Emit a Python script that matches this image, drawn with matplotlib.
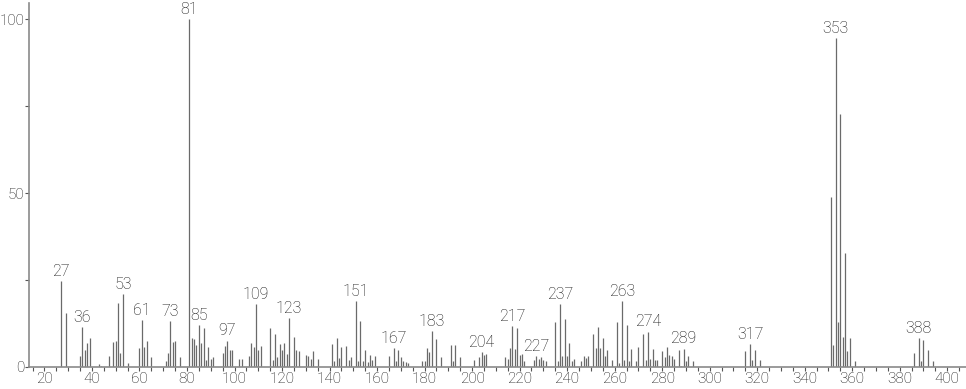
import numpy as np
import matplotlib
matplotlib.use("Agg")
import matplotlib.pyplot as plt
from matplotlib.ticker import MultipleLocator, FixedLocator

# m/z values and relative intensities
mz = [27, 29, 35, 36, 37, 38, 39, 43, 44, 47, 49, 50, 51, 52, 53, 55,
      60, 61, 62, 63, 65, 71, 72, 73, 74, 75, 77, 81, 82, 83, 84, 85,
      86, 87, 88, 89, 90, 91, 95, 96, 97, 98, 99, 102, 103, 106, 107, 108,
      109, 110, 111, 115, 116, 117, 118, 119, 120, 121, 122, 123, 124, 125, 126, 127,
      130, 131, 132, 133, 135, 141, 142, 143, 144, 145, 147, 148, 149, 151, 152, 153,
      154, 155, 156, 157, 158, 159, 165, 167, 168, 169, 170, 171, 172, 173, 179, 180,
      181, 182, 183, 185, 187, 191, 192, 193, 195, 201, 203, 204, 205, 206, 214, 215,
      216, 217, 218, 219, 220, 221, 222, 226, 227, 228, 229, 230, 231, 235, 236, 237,
      238, 239, 240, 241, 242, 243, 246, 247, 248, 249, 251, 252, 253, 254, 255, 256,
      257, 259, 261, 262, 263, 264, 265, 266, 267, 269, 270, 272, 273, 274, 275, 276,
      277, 278, 280, 281, 282, 283, 284, 285, 287, 288, 289, 290, 291, 293, 315, 317,
      318, 319, 321, 351, 352, 353, 354, 355, 356, 357, 358, 359, 361, 386, 388, 389,
      390, 392, 394]
intensity = [24.8, 15.5, 3.3, 11.6, 5.0, 6.8, 8.3, 0.8, 0.4, 3.3, 7.3, 7.5, 18.3, 4.0, 21.1, 1.2,
             5.4, 13.6, 5.8, 7.6, 3.0, 1.6, 4.0, 13.1, 7.3, 7.6, 2.8, 100, 8.4, 8.1, 6.4, 12.0,
             6.8, 11.1, 2.1, 5.7, 2.2, 3.0, 4.1, 6.1, 7.6, 5.0, 5.0, 2.4, 2.4, 3.1, 6.8, 5.8,
             18.2, 5.0, 6.1, 11.2, 2.1, 9.6, 3.0, 6.6, 4.8, 6.8, 3.8, 14.1, 0.4, 8.7, 5.0, 4.7,
             3.4, 3.3, 2.4, 4.7, 2.4, 6.6, 1.7, 8.4, 2.5, 5.7, 6.1, 2.1, 2.9, 19.1, 1.7, 13.1,
             1.8, 5.0, 1.3, 3.4, 2.1, 3.2, 3.3, 5.4, 1.8, 4.8, 2.9, 1.8, 1.4, 1.1, 1.7, 1.7,
             5.4, 4.2, 10.4, 8.1, 3.0, 6.2, 1.7, 6.2, 2.8, 2.0, 2.8, 4.3, 3.5, 3.8, 2.8, 2.4,
             5.4, 11.8, 5.2, 11.2, 3.4, 3.8, 1.8, 1.9, 3.1, 2.4, 2.9, 1.9, 1.8, 12.9, 1.7, 18.0,
             3.3, 13.9, 3.3, 6.9, 1.7, 2.4, 1.7, 3.3, 2.6, 3.2, 9.5, 5.6, 11.6, 5.6, 8.3, 3.3,
             5.0, 2.1, 12.9, 1.1, 19.1, 2.1, 12.2, 1.7, 5.3, 1.7, 5.7, 9.4, 2.0, 10.2, 2.4, 5.3,
             2.0, 2.0, 4.7, 2.8, 5.7, 3.4, 3.2, 2.4, 5.0, 0.3, 5.3, 1.8, 3.3, 1.7, 4.7, 6.7,
             2.1, 5.0, 2.1, 48.8, 6.3, 94.5, 12.8, 72.8, 8.6, 32.8, 4.7, 8.4, 1.7, 4.0, 8.4, 1.7,
             7.7, 5.0, 1.8]

labelled = [27, 36, 53, 61, 73, 81, 85, 97, 109, 123, 151, 167, 183, 204, 217,
            227, 237, 263, 274, 289, 317, 353, 388]

plt.rcParams['font.family'] = ['Roboto', 'DejaVu Sans']

fig = plt.figure(figsize=(9.66, 3.89), dpi=100)
ax = fig.add_axes([29/966, 22/389, 937/966, 364/389])

ax.vlines(mz, 0, intensity, colors='#6a6a6a', linewidth=0.9)

peaks = dict(zip(mz, intensity))
for m in labelled:
    ax.annotate(str(m), (m, peaks[m]), xytext=(0, 1.5), textcoords='offset points',
                ha='center', va='bottom', fontsize=11.5, color='#111111',
                fontweight='light')

ax.set_xlim(13.5, 407.9)
ax.set_ylim(0, 104.7)

for s in ['top', 'right']:
    ax.spines[s].set_visible(False)
for s in ['left', 'bottom']:
    ax.spines[s].set_color('#8a8a8a')
    ax.spines[s].set_linewidth(1.2)

ax.xaxis.set_major_locator(MultipleLocator(20))
ax.xaxis.set_minor_locator(MultipleLocator(5))
ax.yaxis.set_major_locator(FixedLocator([0, 50, 100]))
ax.yaxis.set_minor_locator(FixedLocator([25, 75]))
ax.tick_params(which='both', direction='out', length=3, width=0.8, color='#555555',
               labelsize=11, labelcolor='#111111', pad=0.5)
for lab in ax.get_xticklabels() + ax.get_yticklabels():
    lab.set_fontweight('light')

plt.savefig('out.png', dpi=100)
